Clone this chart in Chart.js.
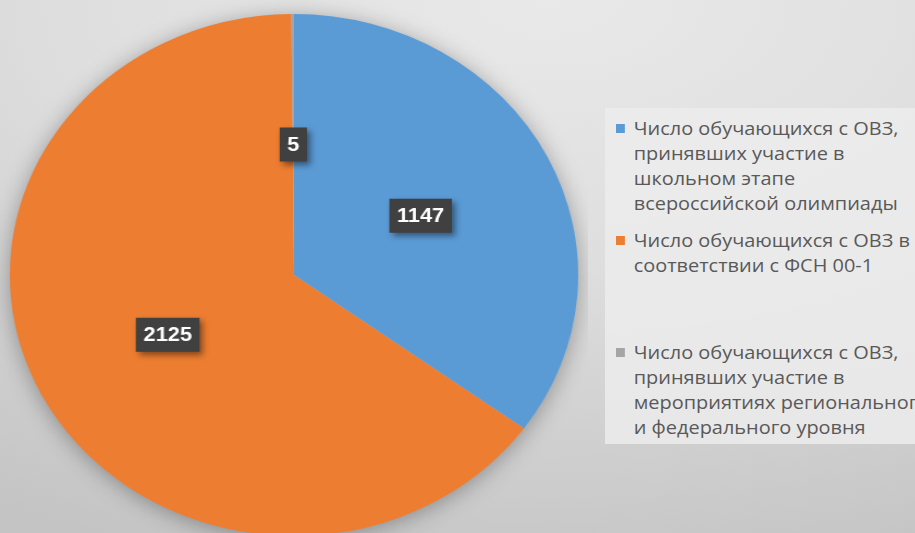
<!DOCTYPE html>
<html>
<head>
  <meta charset="UTF-8">
  <title>Обучающиеся с ОВЗ</title>
  <script src="https://cdn.jsdelivr.net/npm/chart.js"></script>
  <style>
    html, body {
      margin: 0;
      padding: 0;
    }
    body {
      width: 915px;
      height: 533px;
      overflow: hidden;
      position: relative;
      background: radial-gradient(ellipse 120% 110% at 60% 0%, #e9e9e9 0%, #dedede 45%, #c4c4c4 100%);
      font-family: 'Open Sans', sans-serif;
    }
    /* картинка в оригинале растянута по горизонтали */
    #pie {
      position: absolute;
      left: 0;
      top: 0;
    }
    #legend {
      position: absolute;
      left: 605px;
      top: 108px;
      width: 320px;
      height: 336px;
      background: rgba(236, 236, 236, 0.85);
    }
    .item {
      position: absolute;
      left: 11px;
      color: #595959;
      font-size: 18px;
      line-height: 25px;
      transform: scaleX(1.107);
      transform-origin: 0 0;
    }
    .item .box {
      position: absolute;
      left: 0;
      top: 8px;
      width: 8px;
      height: 9px;
    }
    .item .txt {
      margin-left: 16px;
      white-space: pre;
    }
  </style>
</head>
<body>
  <canvas id="pie" width="540" height="540" style="width:588px;height:540px"></canvas>
  <div id="legend"></div>

  <script>
    const labels = [
      'Число обучающихся с ОВЗ,\nпринявших участие в\nшкольном этапе\nвсероссийской олимпиады',
      'Число обучающихся с ОВЗ в\nсоответствии с ФСН 00-1',
      'Число обучающихся с ОВЗ,\nпринявших участие в\nмероприятиях регионального\nи федерального уровня'
    ];
    const values = [1147, 2125, 5];
    const colors = ['#5b9bd5', '#ed7d31', '#a5a5a5'];

    // мягкая тень под кругом
    const pieShadow = {
      id: 'pieShadow',
      beforeDatasetsDraw(chart) {
        const arc = chart.getDatasetMeta(0).data[0];
        if (!arc) return;
        const ctx = chart.ctx;
        ctx.save();
        ctx.shadowColor = 'rgba(0, 0, 0, 0.35)';
        ctx.shadowBlur = 22;
        ctx.shadowOffsetY = 3;
        ctx.fillStyle = '#c0c0c0';
        ctx.beginPath();
        ctx.arc(arc.x, arc.y, arc.outerRadius - 1, 0, Math.PI * 2);
        ctx.fill();
        ctx.restore();
      }
    };

    // подписи значений в тёмных плашках
    const valueBoxes = {
      id: 'valueBoxes',
      afterDatasetsDraw(chart) {
        const ctx = chart.ctx;
        const meta = chart.getDatasetMeta(0);
        ctx.save();
        ctx.font = 'bold 20px "Liberation Sans", sans-serif';
        ctx.textAlign = 'center';
        ctx.textBaseline = 'middle';
        meta.data.forEach((arc, i) => {
          const p = arc.getCenterPoint();
          const text = String(values[i]);
          const w = ctx.measureText(text).width + 14;
          const h = 34;
          ctx.save();
          ctx.shadowColor = 'rgba(0, 0, 0, 0.45)';
          ctx.shadowBlur = 6;
          ctx.shadowOffsetX = 3;
          ctx.shadowOffsetY = 3;
          ctx.fillStyle = '#404040';
          ctx.fillRect(p.x - w / 2, p.y - h / 2, w, h);
          ctx.restore();
          ctx.fillStyle = '#ffffff';
          ctx.fillText(text, p.x, p.y + 1);
        });
        ctx.restore();
      }
    };

    new Chart(document.getElementById('pie'), {
      type: 'pie',
      data: {
        labels: labels,
        datasets: [{
          data: values,
          backgroundColor: colors,
          borderWidth: 0
        }]
      },
      options: {
        responsive: false,
        animation: false,
        layout: { padding: { top: 14, bottom: 4, left: 0, right: 0 } },
        plugins: {
          legend: { display: false },
          tooltip: { enabled: false }
        }
      },
      plugins: [pieShadow, valueBoxes]
    });

    // легенда справа
    const legend = document.getElementById('legend');
    labels.forEach((text, i) => {
      const item = document.createElement('div');
      item.className = 'item';
      item.style.top = (8 + i * 112) + 'px';
      item.innerHTML = '<span class="box" style="background:' + colors[i] + '"></span>' +
        '<div class="txt"></div>';
      item.querySelector('.txt').textContent = text;
      legend.appendChild(item);
    });
  </script>
</body>
</html>
